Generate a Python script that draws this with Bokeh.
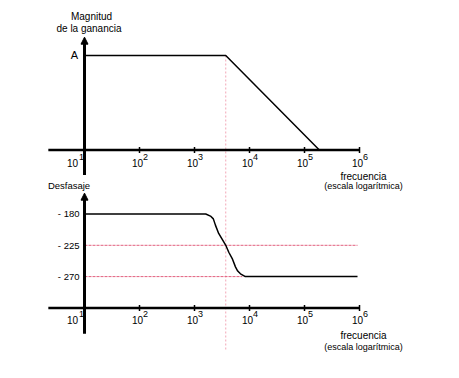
from bokeh.plotting import figure
from bokeh.models import Range1d, Arrow, NormalHead
from bokeh.core.properties import value
from bokeh.embed import file_html
from bokeh.resources import INLINE

# ---------------- data ----------------
decades = [1, 2, 3, 4, 5, 6]
tick_freqs = [10.0 ** d for d in decades]
base_labels = ["10"] * len(decades)
sup_labels = [str(d) for d in decades]

corner_freq = 3700
gain_freq = [10, 3700, 186000]
gain_db = [0, 0, -34]
gain_axis_db = -34
gain_axis_top_db = 6.6
gain_axis_bottom_db = -43

phase_freq = [10, 1600, 1950, 2200, 2400, 2750, 3400, 3700, 4200, 4850,
              5550, 6100, 6850, 8400, 920000]
phase_deg = [-180, -180, -183, -187, -196, -208, -220, -225, -235, -244,
             -256, -262, -266, -270, -270]
phase_ticks = [-180, -225, -270]
phase_tick_labels = ["- 180", "- 225", "- 270"]
phase_axis_deg = -315
phase_axis_top_deg = -150
phase_axis_bottom_deg = -352

axis_left_freq = 2.2
axis_right_freq = 1e6
guide225_end = 920000
guide270_end = 7400
vguide_bottom_db = -106

FONT = value("Liberation Sans")

p = figure(width=443, height=362, output_backend="svg", toolbar_location=None,
           x_axis_type="log", x_axis_location=None, y_axis_location=None,
           x_range=Range1d(10 ** -0.5273, 10 ** 7.527),
           y_range=Range1d(-110.43, 19.78),
           extra_y_ranges={"phase": Range1d(-393.49, 126.93)},
           min_border=0, outline_line_color=None,
           background_fill_color="white", border_fill_color="white")
p.grid.visible = False

# guide lines
p.segment(x0=[corner_freq], y0=[0], x1=[corner_freq], y1=[vguide_bottom_db],
          line_color="#f2a6b6", line_width=1, line_dash="2 2")
p.segment(x0=[10, 10], y0=[-225, -270], x1=[guide225_end, guide270_end], y1=[-225, -270],
          y_range_name="phase", line_color="#e2607e", line_width=1, line_dash="3 1")

# magnitude axes
p.segment(x0=[axis_left_freq], y0=[gain_axis_db], x1=[axis_right_freq], y1=[gain_axis_db],
          line_color="black", line_width=2.5)
p.segment(x0=[10], y0=[gain_axis_bottom_db], x1=[10], y1=[gain_axis_top_db - 1.5],
          line_color="black", line_width=3)
p.add_layout(Arrow(x_start=10, y_start=gain_axis_top_db - 3, x_end=10, y_end=gain_axis_top_db,
                   line_alpha=0,
                   end=NormalHead(size=7, fill_color="black", line_color="black", line_width=1)))
p.scatter(x=tick_freqs[1:], y=[gain_axis_db] * 5, marker="dash", angle=1.5708,
          size=6, line_color="black", line_width=1.5)

# phase axes
p.segment(x0=[axis_left_freq], y0=[phase_axis_deg], x1=[axis_right_freq], y1=[phase_axis_deg],
          y_range_name="phase", line_color="black", line_width=2.5)
p.segment(x0=[10], y0=[phase_axis_bottom_deg], x1=[10], y1=[phase_axis_top_deg - 4],
          y_range_name="phase", line_color="black", line_width=3)
p.add_layout(Arrow(x_start=10, y_start=phase_axis_top_deg - 8, x_end=10, y_end=phase_axis_top_deg,
                   y_range_name="phase", line_alpha=0,
                   end=NormalHead(size=7, fill_color="black", line_color="black", line_width=1)))
p.scatter(x=tick_freqs[1:], y=[phase_axis_deg] * 5, y_range_name="phase", marker="dash",
          angle=1.5708, size=6, line_color="black", line_width=1.5)

# curves
p.line(gain_freq, gain_db, line_color="black", line_width=1.5)
p.line(phase_freq, phase_deg, y_range_name="phase", line_color="black", line_width=1.5)

# tick labels
xoff_base = [-12] + [-2] * 5
xoff_sup = [-3] + [6] * 5
for yv, rng, off_b, off_s in [(gain_axis_db, "default", 12.5, 6.5),
                              (phase_axis_deg, "phase", 12.5, 6)]:
    p.text(x=tick_freqs, y=[yv] * 6, text=base_labels, x_offset=xoff_base, y_offset=off_b,
           y_range_name=rng, text_font=FONT, text_font_size="10px", text_align="center",
           text_baseline="middle", text_color="black")
    p.text(x=tick_freqs, y=[yv] * 6, text=sup_labels, x_offset=xoff_sup, y_offset=off_s,
           y_range_name=rng, text_font=FONT, text_font_size="9px", text_align="center",
           text_baseline="middle", text_color="black")

# phase tick labels
p.text(x=[10] * 3, y=phase_ticks, text=phase_tick_labels, x_offset=-5, y_range_name="phase",
       text_font=FONT, text_font_size="9.5px", text_align="right", text_baseline="middle",
       text_color="black")

# A label
p.text(x=[10], y=[0], text=["A"], x_offset=-10, text_font=FONT, text_font_size="11px",
       text_align="center", text_baseline="middle", text_color="black")

# axis titles
p.text(x=[10, 10], y=[gain_axis_top_db] * 2, text=["Magnitud", "de la ganancia"],
       x_offset=[7, 4.5], y_offset=[-20.5, -8.5], text_font=FONT, text_font_size="10px",
       text_align="center", text_baseline="middle", text_color="black")
p.text(x=[10], y=[phase_axis_top_deg], text=["Desfasaje"], x_offset=-15.5, y_offset=-7.7,
       y_range_name="phase", text_font=FONT, text_font_size="9.5px",
       text_align="center", text_baseline="middle", text_color="black")
for yv, rng, o1, o2 in [(gain_axis_db, "default", 26.5, 36),
                        (phase_axis_deg, "phase", 27.6, 38.6)]:
    p.text(x=[axis_right_freq] * 2, y=[yv] * 2, text=["frecuencia", "(escala logarítmica)"],
           x_offset=4, y_offset=[o1, o2], y_range_name=rng, text_font=FONT,
           text_font_size=["10px", "9px"], text_align="center", text_baseline="middle",
           text_color="black")

open("out.html", "w").write(file_html(p, INLINE))
